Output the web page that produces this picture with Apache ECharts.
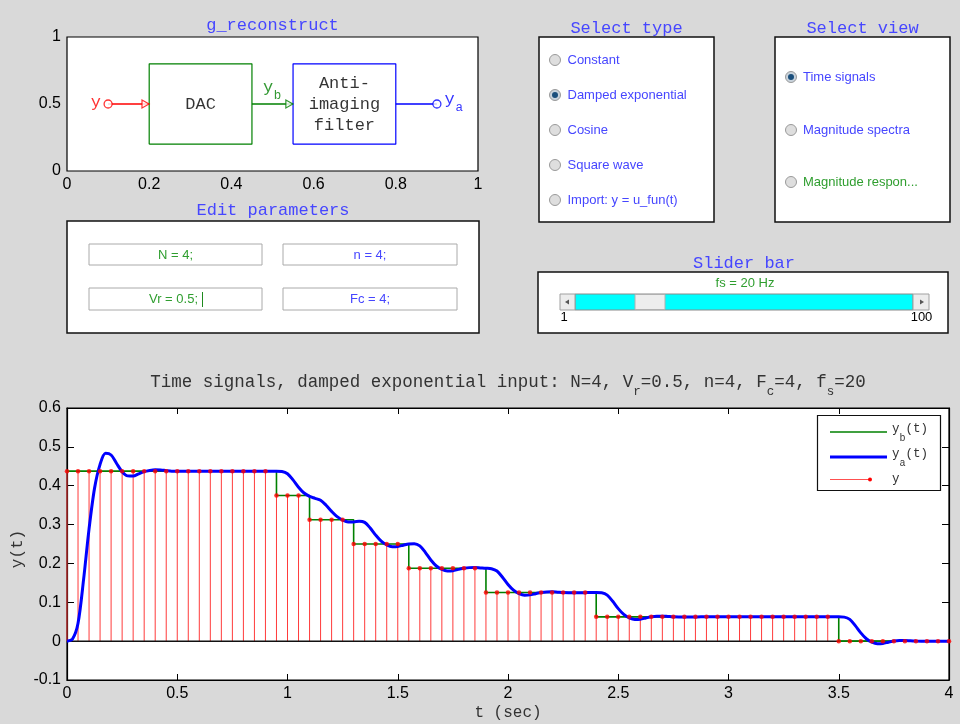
<!DOCTYPE html>
<html><head><meta charset="utf-8">
<script src="https://cdn.jsdelivr.net/npm/echarts@6/dist/echarts.min.js"></script>
<style>html,body{margin:0;padding:0;background:#d9d9d9;}#c{width:960px;height:724px;}</style>
</head><body><div id="c"></div>
<script>
// ---------------- data ----------------
const fs = 20;                       // sampling rate (Hz)
// quantized samples y(k) (DAC output levels, N=4, Vr=0.5)
const yQuant = [
  0.4375,0.4375,0.4375,0.4375,0.4375,0.4375,0.4375,0.4375,0.4375,0.4375,
  0.4375,0.4375,0.4375,0.4375,0.4375,0.4375,0.4375,0.4375,0.4375,0.375,
  0.375,0.375,0.3125,0.3125,0.3125,0.3125,0.25,0.25,0.25,0.25,
  0.25,0.1875,0.1875,0.1875,0.1875,0.1875,0.1875,0.1875,0.125,0.125,
  0.125,0.125,0.125,0.125,0.125,0.125,0.125,0.125,0.0625,0.0625,
  0.0625,0.0625,0.0625,0.0625,0.0625,0.0625,0.0625,0.0625,0.0625,0.0625,
  0.0625,0.0625,0.0625,0.0625,0.0625,0.0625,0.0625,0.0625,0.0625,0.0625,
  0,0,0,0,0,0,0,0,0,0,
  0
];
// anti-imaging filter output ya(t), read every 0.025 s
const dtA = 0.025;
const yAnalog = [
  0,0.0053,0.0459,0.1575,0.2888,0.3938,0.455,0.4834,0.4791,0.4572,
  0.4362,0.4253,0.4248,0.4305,0.4362,0.4393,0.441,0.4406,0.4388,0.4375,
  0.4375,0.4375,0.4375,0.4375,0.4375,0.4375,0.4375,0.4375,0.4375,0.4375,
  0.4375,0.4375,0.4375,0.4375,0.4375,0.4375,0.4375,0.4375,0.4375,0.4368,
  0.4309,0.415,0.3962,0.3812,0.3725,0.3676,0.3625,0.3497,0.3339,0.3204,
  0.3118,0.3069,0.3068,0.3086,0.3056,0.2913,0.2728,0.2572,0.2477,0.2431,
  0.2436,0.2468,0.25,0.2509,0.2452,0.2285,0.2089,0.1934,0.1845,0.1805,
  0.1814,0.1847,0.1877,0.1892,0.1893,0.1885,0.1877,0.1865,0.1804,0.1646,
  0.146,0.1312,0.1225,0.1184,0.1191,0.1222,0.1252,0.1267,0.1268,0.126,
  0.1252,0.1247,0.1245,0.1246,0.1248,0.125,0.125,0.1243,0.1184,0.1025,
  0.0837,0.0687,0.06,0.0559,0.0566,0.0597,0.0627,0.0642,0.0643,0.0635,
  0.0627,0.0622,0.062,0.0621,0.0623,0.0625,0.0625,0.0625,0.0625,0.0625,
  0.0625,0.0625,0.0625,0.0625,0.0625,0.0625,0.0625,0.0625,0.0625,0.0625,
  0.0625,0.0625,0.0625,0.0625,0.0625,0.0625,0.0625,0.0625,0.0625,0.0625,
  0.0625,0.0618,0.0559,0.04,0.0212,0.0062,-0.0025,-0.0066,-0.0059,-0.0028,
  0.0002,0.0017,0.0018,0.001,0.0002,-0.0003,-0.0005,-0.0004,-0.0002,0,
  0
];
// tick values
const mainXTicks = [0,0.5,1,1.5,2,2.5,3,3.5,4];
const mainYTicks = [-0.1,0,0.1,0.2,0.3,0.4,0.5,0.6];
const diagXTicks = [0,0.2,0.4,0.6,0.8,1];
const diagYTicks = [0,0.5,1];
// block diagram geometry (diagram axes units)
const dacBox = [[0.2,0.2],[0.45,0.2],[0.45,0.8],[0.2,0.8],[0.2,0.2]];
const filterBox = [[0.55,0.2],[0.8,0.2],[0.8,0.8],[0.55,0.8],[0.55,0.2]];
const wireIn = [[0.1,0.5],[0.2,0.5]];
const wireMid = [[0.45,0.5],[0.55,0.5]];
const wireOut = [[0.8,0.5],[0.9,0.5]];
const arrowIn = [[0.191,0.5]];
const arrowMid = [[0.541,0.5]];
const portIn = [[0.1,0.5]];
const portOut = [[0.9,0.5]];
// UI lists
const typeItems = ['Constant','Damped exponential','Cosine','Square wave','Import: y = u_fun(t)'];
const viewItems = ['Time signals','Magnitude spectra','Magnitude respon...'];

// --------------- derived ---------------
const tSamples = yQuant.map((_, k) => +(k / fs).toFixed(4));
const tAnalog = yAnalog.map((_, i) => +(i * dtA).toFixed(4));

const MONO = '"Liberation Mono", "DejaVu Sans Mono", monospace';
const SANS = '"Liberation Sans", Arial, sans-serif';
const BLUE_T = '#4646ff';
const GREEN_T = '#2f9e2f';

function fmtNum(v) {
  const r = Math.round(v * 1000) / 1000;
  return r === 0 ? '0' : String(r);
}

const chart = echarts.init(document.getElementById('c'), null, {renderer: 'canvas'});

function textSeries(pos, label) {
  return {
    type: 'scatter', xAxisIndex: 0, yAxisIndex: 0, data: [pos], symbolSize: 1,
    itemStyle: {color: 'rgba(0,0,0,0)'}, silent: true, z: 6,
    label: Object.assign({show: true, position: 'inside'}, label)
  };
}
function lineSeries(data, color, width, xi, yi, z) {
  return {type: 'line', xAxisIndex: xi, yAxisIndex: yi, data: data, symbol: 'none',
    lineStyle: {color: color, width: width}, silent: true, z: z || 2};
}

// ---------- graphic (GUI panels) ----------
const g = [];
const measCtx = document.createElement('canvas').getContext('2d');
function textW(s, font) { measCtx.font = font; return measCtx.measureText(s).width; }
function rect(x, y, w, h, fill, stroke, lw) {
  g.push({type: 'rect', shape: {x, y, width: w, height: h}, style: {fill, stroke, lineWidth: lw || 1}, silent: true});
}
function txt(x, y, text, font, fill, align, extra) {
  g.push(Object.assign({type: 'text', silent: true, z: 10, style: {x, y, text, font, fill, align: align || 'left', verticalAlign: 'middle', textAlign: align || 'left', textVerticalAlign: 'middle'}}, extra || {}));
}
// text line with subscripts: parts = [[string, isSub], ...]
function subLine(x, y, parts, mainFont, subFont, color, subDy, align) {
  const widths = parts.map(p => textW(p[0], p[1] ? subFont : mainFont));
  const total = widths.reduce((a, b) => a + b, 0);
  let cx = align === 'center' ? x - total / 2 : x;
  parts.forEach((p, i) => {
    txt(cx, y + (p[1] ? subDy : 0), p[0], p[1] ? subFont : mainFont, color, 'left');
    cx += widths[i];
  });
}
function radio(cx, cy, on) {
  g.push({type: 'circle', shape: {cx, cy, r: 5.5}, style: {fill: on ? '#c9d3dc' : '#dedede', stroke: '#9a9a9a', lineWidth: 1}, silent: true});
  if (on) g.push({type: 'circle', shape: {cx, cy, r: 3}, style: {fill: '#1b4f7c'}, silent: true});
}

// panel titles
txt(272.5, 25, 'g_reconstruct', '17px ' + MONO, BLUE_T, 'center');
txt(626.5, 28, 'Select type', '17px ' + MONO, BLUE_T, 'center');
txt(862.5, 28, 'Select view', '17px ' + MONO, BLUE_T, 'center');
txt(273, 210.5, 'Edit parameters', '17px ' + MONO, BLUE_T, 'center');
txt(744, 263, 'Slider bar', '17px ' + MONO, BLUE_T, 'center');

// Select type panel
rect(539, 37, 175, 185, '#ffffff', '#111', 1.5);
const typeY = [60, 95, 130, 165, 200];
typeItems.forEach((s, i) => { radio(555, typeY[i], i === 1); txt(567.5, typeY[i], s, '13px ' + SANS, BLUE_T, 'left'); });
// Select view panel
rect(775, 37, 175, 185, '#ffffff', '#111', 1.5);
const viewY = [77, 130, 182];
viewItems.forEach((s, i) => { radio(791, viewY[i], i === 0); txt(803, viewY[i], s, '13px ' + SANS, i === 2 ? GREEN_T : BLUE_T, 'left'); });

// Edit parameters panel
rect(67, 221, 412, 112, '#ffffff', '#111', 1.5);
rect(89, 244, 173, 21, '#ffffff', '#aaaaaa', 1);
rect(283, 244, 174, 21, '#ffffff', '#aaaaaa', 1);
rect(89, 288, 173, 22, '#ffffff', '#aaaaaa', 1);
rect(283, 288, 174, 22, '#ffffff', '#aaaaaa', 1);
txt(175.5, 255, 'N = 4;', '13px ' + SANS, GREEN_T, 'center');
txt(370, 255, 'n = 4;', '13px ' + SANS, BLUE_T, 'center');
txt(173.5, 299.5, 'Vr = 0.5;', '13px ' + SANS, GREEN_T, 'center');
g.push({type: 'line', shape: {x1: 202.5, y1: 292, x2: 202.5, y2: 307}, style: {stroke: '#1e8a1e', lineWidth: 1}, silent: true});
txt(370, 299.5, 'Fc = 4;', '13px ' + SANS, BLUE_T, 'center');

// Slider panel
rect(538, 272, 410, 61, '#ffffff', '#111', 1.5);
txt(745, 283.5, 'fs = 20 Hz', '13px ' + SANS, GREEN_T, 'center');
rect(575, 294, 338, 16, '#00ffff', '#8a8a8a', 1);
rect(560, 294, 15, 16, '#ececec', '#a0a0a0', 1);
rect(913, 294, 16, 16, '#ececec', '#a0a0a0', 1);
rect(635, 294.5, 30, 15, '#ededed', '#b0b0b0', 1);
g.push({type: 'polygon', shape: {points: [[565, 302], [569, 299.5], [569, 304.5]]}, style: {fill: '#555'}, silent: true});
g.push({type: 'polygon', shape: {points: [[924, 302], [920, 299.5], [920, 304.5]]}, style: {fill: '#555'}, silent: true});
txt(564, 317, '1', '13px ' + SANS, '#000', 'center');
txt(921.5, 317, '100', '13px ' + SANS, '#000', 'center');

// Main plot title & axis names
subLine(508, 382, [['Time signals, damped exponential input: N=4, V', 0], ['r', 1], ['=0.5, n=4, F', 0], ['c', 1], ['=4, f', 0], ['s', 1], ['=20', 0]],
  '17.5px ' + MONO, '12.5px ' + MONO, '#333', 10, 'center');
g.push({type: 'text', silent: true, rotation: Math.PI / 2, x: 18, y: 549, style: {
  x: 0, y: 0, text: 'y(t)', font: '16px ' + MONO, fill: '#333', align: 'center', verticalAlign: 'middle', textAlign: 'center', textVerticalAlign: 'middle'}});
txt(508, 713, 't (sec)', '16px ' + MONO, '#333', 'center');

// Legend
rect(817.5, 415.5, 123, 75, '#ffffff', '#111', 1.2);
g.push({type: 'line', shape: {x1: 830, y1: 432, x2: 887, y2: 432}, style: {stroke: '#008000', lineWidth: 1.5}, silent: true, z: 10});
g.push({type: 'line', shape: {x1: 830, y1: 457, x2: 887, y2: 457}, style: {stroke: '#0000ff', lineWidth: 3}, silent: true, z: 10});
g.push({type: 'line', shape: {x1: 830, y1: 479.5, x2: 870, y2: 479.5}, style: {stroke: '#ff5050', lineWidth: 1}, silent: true, z: 10});
g.push({type: 'circle', shape: {cx: 870, cy: 479.5, r: 2}, style: {fill: '#ff0000'}, silent: true, z: 10});
subLine(892, 429, [['y', 0], ['b', 1], ['(t)', 0]], '12.5px ' + MONO, '10px ' + MONO, '#333', 9, 'left');
subLine(892, 454, [['y', 0], ['a', 1], ['(t)', 0]], '12.5px ' + MONO, '10px ' + MONO, '#333', 9, 'left');
subLine(892, 479, [['y', 0]], '12.5px ' + MONO, '10px ' + MONO, '#333', 9, 'left');

// ------------- option -------------
const axisFont = {color: '#000', fontFamily: 'Liberation Sans', fontSize: 16};
const axBase = {type: 'value', splitLine: {show: false}};
const option = {
  animation: false,
  backgroundColor: '#d9d9d9',
  grid: [
    {left: 67, top: 37, width: 411, height: 134, show: true, backgroundColor: '#fff', borderColor: '#000', borderWidth: 1.2, containLabel: false, outerBoundsMode: 'none'},
    {left: 67, top: 408, width: 882, height: 272, show: true, backgroundColor: '#fff', borderColor: '#000', borderWidth: 1.2, containLabel: false, outerBoundsMode: 'none'}
  ],
  xAxis: [
    Object.assign({}, axBase, {gridIndex: 0, min: 0, max: 1, interval: 0.2, axisLine: {show: false, onZero: false}, axisTick: {show: false},
      axisLabel: Object.assign({margin: 6, formatter: fmtNum, customValues: diagXTicks}, axisFont)}),
    Object.assign({}, axBase, {gridIndex: 1, position: 'bottom', min: 0, max: 4, interval: 0.5, axisLine: {show: true, onZero: false, lineStyle: {color: '#000', width: 1.2}},
      axisTick: {show: true, inside: true, length: 6, lineStyle: {color: '#000'}},
      axisLabel: Object.assign({margin: 6, formatter: fmtNum, customValues: mainXTicks}, axisFont)}),
    Object.assign({}, axBase, {gridIndex: 1, position: 'top', min: 0, max: 4, interval: 0.5, axisLine: {show: true, onZero: false, lineStyle: {color: '#000', width: 1.2}},
      axisTick: {show: true, inside: true, length: 6, lineStyle: {color: '#000'}}, axisLabel: {show: false}})
  ],
  yAxis: [
    Object.assign({}, axBase, {gridIndex: 0, min: 0, max: 1, interval: 0.5, axisLine: {show: false, onZero: false}, axisTick: {show: false},
      axisLabel: Object.assign({margin: 6, formatter: fmtNum, customValues: diagYTicks}, axisFont)}),
    Object.assign({}, axBase, {gridIndex: 1, position: 'left', min: -0.1, max: 0.6, interval: 0.1, axisLine: {show: true, onZero: false, lineStyle: {color: '#000', width: 1.2}},
      axisTick: {show: true, inside: true, length: 7, lineStyle: {color: '#000'}},
      axisLabel: Object.assign({margin: 6, formatter: fmtNum, customValues: mainYTicks}, axisFont)}),
    Object.assign({}, axBase, {gridIndex: 1, position: 'right', min: -0.1, max: 0.6, interval: 0.1, axisLine: {show: true, onZero: false, lineStyle: {color: '#000', width: 1.2}},
      axisTick: {show: true, inside: true, length: 7, lineStyle: {color: '#000'}}, axisLabel: {show: false}})
  ],
  series: [
    // ---- block diagram ----
    lineSeries(wireIn, '#ff0000', 1.3, 0, 0),
    lineSeries(wireMid, '#008000', 1.3, 0, 0),
    lineSeries(wireOut, '#0000ff', 1.5, 0, 0),
    lineSeries(dacBox, '#008000', 1.2, 0, 0),
    lineSeries(filterBox, '#0000ff', 1.2, 0, 0),
    {type: 'scatter', xAxisIndex: 0, yAxisIndex: 0, data: portIn, symbol: 'circle', symbolSize: 8, silent: true, z: 5,
      itemStyle: {color: '#fff', borderColor: '#ff0000', borderWidth: 1.3}},
    {type: 'scatter', xAxisIndex: 0, yAxisIndex: 0, data: portOut, symbol: 'circle', symbolSize: 8, silent: true, z: 5,
      itemStyle: {color: '#fff', borderColor: '#0000ff', borderWidth: 1.3}},
    {type: 'scatter', xAxisIndex: 0, yAxisIndex: 0, data: arrowIn, symbol: 'triangle', symbolSize: [8, 7], symbolRotate: -90, silent: true, z: 5,
      itemStyle: {color: '#fff', borderColor: '#ff0000', borderWidth: 1.3}},
    {type: 'scatter', xAxisIndex: 0, yAxisIndex: 0, data: arrowMid, symbol: 'triangle', symbolSize: [8, 7], symbolRotate: -90, silent: true, z: 5,
      itemStyle: {color: '#fff', borderColor: '#008000', borderWidth: 1.3}},
    textSeries([0.07, 0.51], {formatter: 'y', color: '#ff0000', fontFamily: MONO, fontSize: 17}),
    textSeries([0.325, 0.5], {formatter: 'DAC', color: '#000', fontFamily: MONO, fontSize: 17}),
    textSeries([0.675, 0.5], {formatter: 'Anti-\nimaging\nfilter', color: '#000', fontFamily: MONO, fontSize: 17, lineHeight: 21, align: 'center'}),
    textSeries([0.489, 0.625], {formatter: 'y', color: '#008000', fontFamily: MONO, fontSize: 17}),
    textSeries([0.489, 0.625], {formatter: 'b', color: '#008000', fontFamily: MONO, fontSize: 12.5, offset: [9.5, 8]}),
    textSeries([0.931, 0.53], {formatter: 'y', color: '#0000ff', fontFamily: MONO, fontSize: 17}),
    textSeries([0.931, 0.53], {formatter: 'a', color: '#0000ff', fontFamily: MONO, fontSize: 12.5, offset: [9.5, 8]}),
    // ---- main plot ----
    {type: 'custom', xAxisIndex: 1, yAxisIndex: 1, silent: true, z: 2,
      data: tSamples.map((t, k) => [t, yQuant[k]]), encode: {x: 0, y: 1},
      renderItem: function (params, api) {
        const t = api.value(0), v = api.value(1);
        const a = api.coord([t, 0]), b = api.coord([t, v]);
        return {type: 'line', shape: {x1: a[0], y1: a[1], x2: b[0], y2: b[1]}, style: {stroke: '#ff3b3b', lineWidth: 1}};
      }},
    lineSeries([[0, 0], [4, 0]], '#111', 1.5, 1, 1, 3),
    Object.assign(lineSeries(tSamples.map((t, k) => [t, yQuant[k]]), '#008000', 1.6, 1, 1, 4), {step: 'end'}),
    Object.assign(lineSeries(tAnalog.map((t, i) => [t, yAnalog[i]]), '#0000ff', 3, 1, 1, 5), {smooth: 0.3}),
    {type: 'scatter', xAxisIndex: 1, yAxisIndex: 1, data: tSamples.map((t, k) => [t, yQuant[k]]), symbol: 'circle', symbolSize: 4.5,
      itemStyle: {color: '#ff0000'}, silent: true, z: 6}
  ],
  graphic: g
};
chart.setOption(option);
</script></body></html>
